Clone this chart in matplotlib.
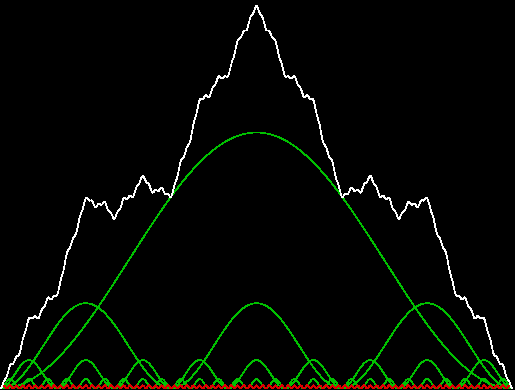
import numpy as np
import matplotlib
matplotlib.use("Agg")
import matplotlib.pyplot as plt

# bump layers: number of bumps across the width and bump height (pixels)
bump_counts = [1, 3, 9, 27, 81]
bump_heights = [256, 85.3, 28.4, 9.5, 3.2]
layer_colors = ["#00c000", "#00c000", "#00c000", "#00c000", "#e00000"]
span = 512  # width covered by the curves (pixels)

x = np.linspace(0, span, 4097)

fig = plt.figure(figsize=(5.15, 3.9), dpi=100, facecolor="black")
ax = fig.add_axes([0, 0, 1, 1])
ax.set_facecolor("black")

total = np.zeros_like(x)
for n, h, c in zip(bump_counts, bump_heights, layer_colors):
    # each layer is a row of raised-cosine bumps
    layer = h * np.sin(np.pi * n * x / span) ** 2
    total += layer
    ax.plot(x, layer, color=c, lw=0.5, antialiased=False)

ax.plot(x, total, color="white", lw=0.5, antialiased=False)

ax.set_xlim(-0.5, 514.5)
ax.set_ylim(-1.5, 388.5)
ax.axis("off")

fig.savefig("out.png", dpi=100, facecolor="black")
